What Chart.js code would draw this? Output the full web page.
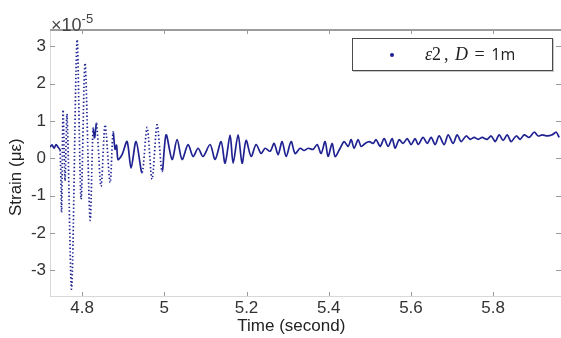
<!DOCTYPE html>
<html lang="en">
<head>
  <meta charset="UTF-8">
  <title>Strain vs time</title>
  <script src="https://cdn.jsdelivr.net/npm/chart.js"></script>
  <style>
    body { margin: 0; background: #fff; }
    #wrap { position: relative; width: 561px; height: 338px; }
    #exp {
      position: absolute; left: 51px; top: 12px; line-height: 18px;
      font: 18px "Liberation Sans", Arial, sans-serif; color: #444;
    }
    #exp sup { font-size: 13px; position: relative; top: -1px; }
    #legend {
      position: absolute; left: 352px; top: 38px; width: 201px; height: 33px;
      box-sizing: border-box; border: 1.5px solid #4a4a4a; background: #fff;
      box-shadow: 1px 1px 0 #c8c8c8;
    }
    #legend .dot {
      position: absolute; left: 37px; top: 14px; width: 4px; height: 4px;
      border-radius: 50%; background: #1c1f96;
    }
    #legend .lbl {
      position: absolute; left: 72px; top: 4px; white-space: nowrap;
      font: 18px "Liberation Serif", serif; color: #222; word-spacing: 2px;
    }
    #legend .lbl .c { margin-left: 3px; }
    #legend .lbl .u { font: 16px "Open Sans", sans-serif; }
  </style>
</head>
<body>
<div id="wrap">
  <canvas id="strainChart"></canvas>
  <div id="exp">&times;10<sup>-5</sup></div>
  <div id="legend">
    <span class="dot"></span>
    <span class="lbl"><i>&epsilon;</i>2<span class="c">,</span> <i>D</i> = <span class="u">1m</span></span>
  </div>
</div>

<script>
  // time (s) and strain (x 1e-5)
  const times = [
    4.7221, 4.7270, 4.7319, 4.7367, 4.7416, 4.7465, 4.7501, 4.7538, 4.7586, 4.7635,
    4.7745, 4.7878, 4.7976, 4.8073, 4.8195, 4.8268, 4.8304, 4.8353, 4.8462, 4.8560,
    4.8681, 4.8754, 4.8803, 4.8839, 4.8876, 4.8973, 4.9095, 4.9192, 4.9314, 4.9460,
    4.9582, 4.9703, 4.9825, 4.9946, 5.0044, 5.0190, 5.0311, 5.0433, 5.0579, 5.0701,
    5.0822, 5.0944, 5.1114, 5.1236, 5.1382, 5.1479, 5.1601, 5.1674, 5.1796, 5.1893,
    5.1990, 5.2112, 5.2234, 5.2355, 5.2453, 5.2574, 5.2672, 5.2769, 5.2866, 5.2964,
    5.3085, 5.3182, 5.3304, 5.3401, 5.3499, 5.3620, 5.3718, 5.3815, 5.3912, 5.3985,
    5.4083, 5.4156, 5.4277, 5.4375, 5.4472, 5.4545, 5.4618, 5.4715, 5.4788, 5.4886,
    5.4983, 5.5080, 5.5153, 5.5251, 5.5348, 5.5445, 5.5543, 5.5616, 5.5713, 5.5810,
    5.5908, 5.6005, 5.6102, 5.6175, 5.6297, 5.6394, 5.6491, 5.6589, 5.6686, 5.6808,
    5.6905, 5.7027, 5.7124, 5.7221, 5.7343, 5.7440, 5.7538, 5.7635, 5.7732, 5.7854,
    5.7951, 5.8049, 5.8146, 5.8243, 5.8341, 5.8438, 5.8560, 5.8657, 5.8754, 5.8876,
    5.8998, 5.9095, 5.9192, 5.9314, 5.9436, 5.9533, 5.9606
  ];
  const strain = [
    0.30, 0.36, 0.27, 0.37, 0.30, 0.22, -1.45, 1.30, -0.60, 1.17,
    -3.50, 3.17, -1.10, 2.55, -1.65, 0.80, 0.55, 0.93, -0.75, 0.90,
    -0.65, 0.70, 0.24, 0.35, -0.03, 0.10, 0.45, -0.26, 0.45, -0.38,
    0.83, -0.56, 0.90, -0.35, 0.63, -0.03, 0.50, -0.03, 0.37, 0.05,
    0.27, 0.05, 0.37, -0.03, 0.45, -0.13, 0.62, -0.13, 0.63, -0.13,
    0.48, 0.05, 0.37, 0.13, 0.27, 0.19, 0.40, 0.10, 0.45, 0.05,
    0.45, 0.13, 0.27, 0.21, 0.27, 0.24, 0.37, 0.13, 0.45, 0.05,
    0.40, 0.05, 0.27, 0.45, 0.32, 0.50, 0.27, 0.50, 0.32, 0.40,
    0.45, 0.40, 0.50, 0.32, 0.53, 0.32, 0.53, 0.27, 0.50, 0.40,
    0.53, 0.37, 0.53, 0.37, 0.56, 0.40, 0.56, 0.37, 0.60, 0.37,
    0.63, 0.40, 0.63, 0.45, 0.60, 0.51, 0.56, 0.51, 0.56, 0.51,
    0.60, 0.45, 0.63, 0.48, 0.63, 0.45, 0.60, 0.51, 0.63, 0.56,
    0.70, 0.60, 0.63, 0.60, 0.63, 0.70, 0.56
  ];
  const xTicks = [4.8, 5, 5.2, 5.4, 5.6, 5.8];
  const yTicks = [-3, -2, -1, 0, 1, 2, 3];

  const points = times.map((t, i) => ({ x: t, y: strain[i] }));

  // MATLAB style inner tick marks and the heavier top edge
  const frame = {
    id: 'frame',
    beforeDatasetsDraw(chart) {
      const { ctx, chartArea: a, scales: { x, y } } = chart;
      ctx.save();
      ctx.strokeStyle = '#9a9a9a';
      ctx.lineWidth = 1;
      ctx.beginPath();
      xTicks.forEach(v => {
        const px = Math.round(x.getPixelForValue(v)) + 0.5;
        ctx.moveTo(px, a.bottom); ctx.lineTo(px, a.bottom - 4);
        ctx.moveTo(px, a.top); ctx.lineTo(px, a.top + 4);
      });
      yTicks.forEach(v => {
        const py = Math.round(y.getPixelForValue(v)) + 0.5;
        ctx.moveTo(a.left, py); ctx.lineTo(a.left + 5, py);
        ctx.moveTo(a.right, py); ctx.lineTo(a.right - 5, py);
      });
      ctx.stroke();
      ctx.strokeStyle = '#9c9c9c';
      ctx.lineWidth = 2;
      ctx.beginPath();
      ctx.moveTo(a.left, a.top); ctx.lineTo(a.right, a.top);
      ctx.stroke();
      ctx.restore();
    }
  };

  const tickFont = { family: '"Liberation Sans", Arial, sans-serif', size: 17 };
  const pad = '\u00a0\u00a0\u00a0\u00a0\u00a0\u00a0';

  new Chart(document.getElementById('strainChart'), {
    type: 'line',
    data: {
      datasets: [{
        data: points,
        borderColor: '#1f2290',
        backgroundColor: '#1f2290',
        borderWidth: 1.7,
        pointRadius: 0,
        tension: 0.3,
        segment: {
          borderDash: c => Math.abs(c.p1.y - c.p0.y) > 45 ? [1.4, 2.3] : undefined
        }
      }]
    },
    options: {
      responsive: true,
      maintainAspectRatio: false,
      animation: false,
      devicePixelRatio: 1,
      layout: { padding: { top: 30, right: 0, left: 0, bottom: 0 } },
      plugins: { legend: { display: false }, tooltip: { enabled: false } },
      scales: {
        x: {
          type: 'linear',
          min: 4.722,
          max: 5.965,
          afterFit: s => { s.height = 42; },
          afterBuildTicks: s => { s.ticks = xTicks.map(v => ({ value: v })); },
          ticks: {
            includeBounds: false,
            padding: 2,
            color: '#333',
            font: tickFont,
            maxRotation: 0,
            callback: v => String(+v.toFixed(2))
          },
          grid: { display: true, drawOnChartArea: false, drawTicks: false },
          border: { color: '#d8d8d8', width: 1 },
          title: {
            display: true,
            text: 'Time (second)' + pad,
            color: '#222',
            font: { family: tickFont.family, size: 17 },
            padding: { top: 0, bottom: 1 }
          }
        },
        y: {
          min: -3.69,
          max: 3.44,
          afterFit: s => { s.width = 50; },
          afterBuildTicks: s => { s.ticks = yTicks.map(v => ({ value: v })); },
          ticks: {
            includeBounds: false,
            padding: 4,
            color: '#333',
            font: tickFont,
            callback: v => String(v)
          },
          grid: { display: true, drawOnChartArea: false, drawTicks: false },
          border: { color: '#d8d8d8', width: 1 },
          title: {
            display: true,
            text: 'Strain (\u03bc\u03b5)' + pad,
            color: '#222',
            font: { family: tickFont.family, size: 17 },
            padding: { top: 6, bottom: 0 }
          }
        }
      }
    },
    plugins: [frame]
  });
</script>
</body>
</html>
